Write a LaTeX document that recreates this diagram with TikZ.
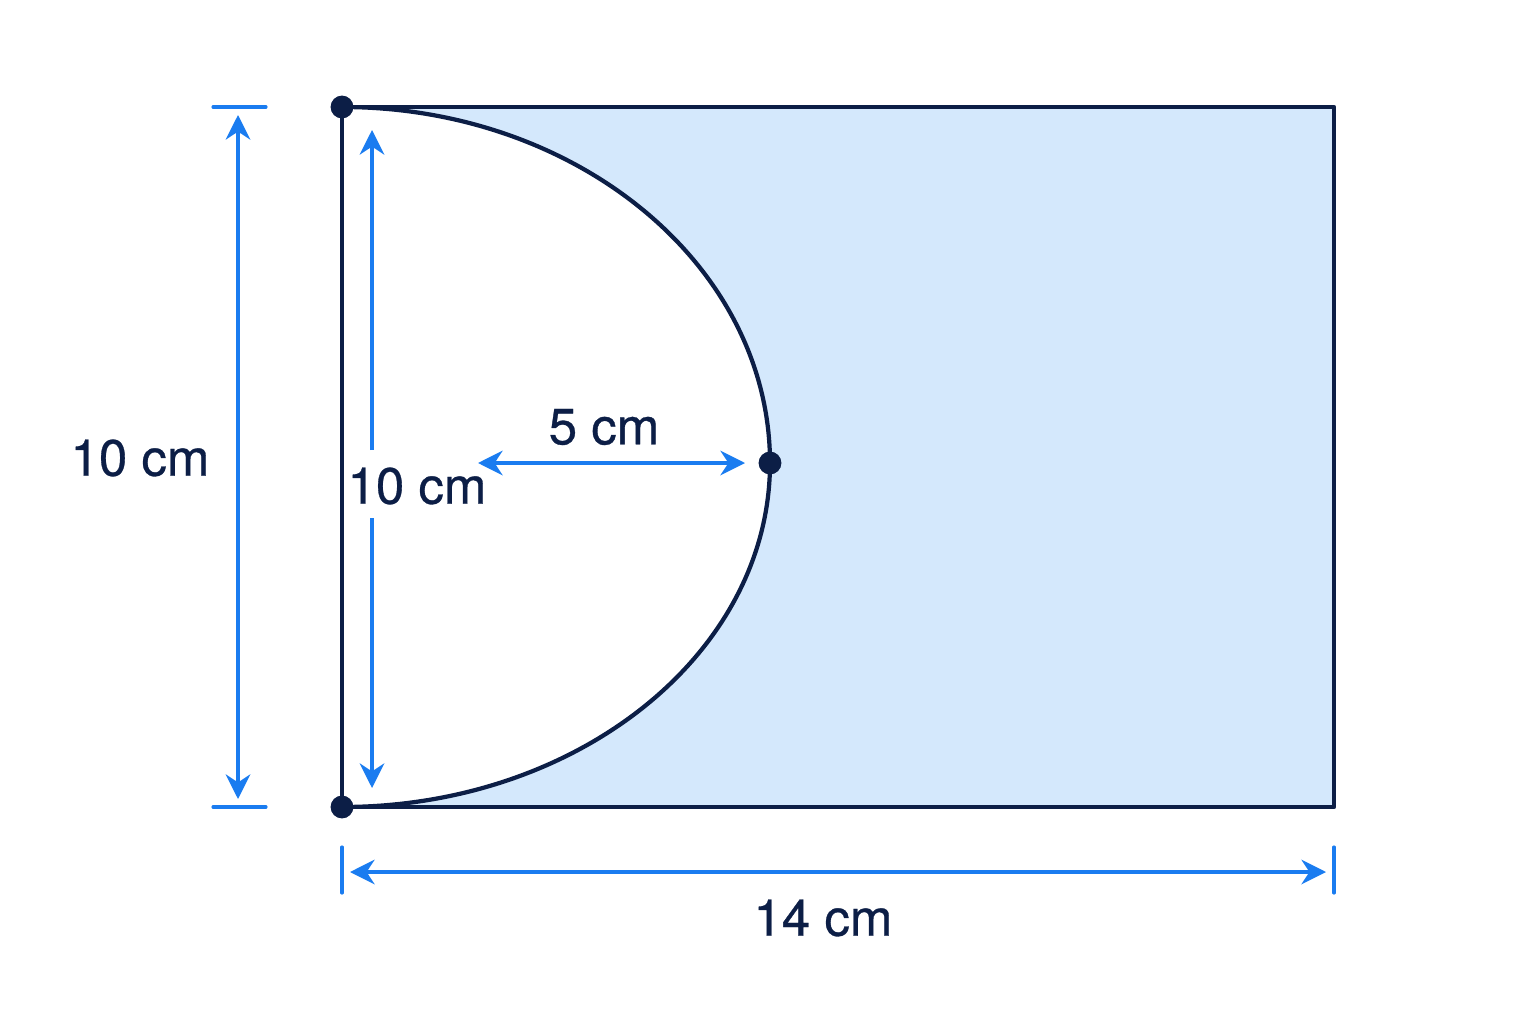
\documentclass[tikz,border=0pt]{standalone}
\usepackage{fontspec}
\setmainfont{TeX Gyre Heros}
\newfontfamily\lblfont{TeX Gyre Heros}[FakeBold=0.6]
\usepackage{tikz}
\usetikzlibrary{arrows.meta,calc,positioning}
\definecolor{navy}{RGB}{12,30,70}
\definecolor{dimblue}{RGB}{26,124,240}
\definecolor{paleblue}{RGB}{212,232,252}
\tikzset{
  outline/.style = {line width=1.2pt, draw=navy, line join=round},
  dim line/.style = {line width=0.9pt, dimblue, {Stealth[length=7pt,width=7pt]}-{Stealth[length=7pt,width=7pt]}},
  dim tick/.style = {line width=0.9pt, dimblue, line cap=round},
  dot/.style = {circle, fill=navy, inner sep=0pt, minimum size=6.5pt},
  lbl/.style = {text=navy, font=\lblfont\fontsize{14.5}{16}\selectfont, inner sep=1pt}
}
\begin{document}
\begin{tikzpicture}
\useasboundingbox (0,0) rectangle (15.36,10.24);
% corners of the sheet
\path (3.42,9.17) coordinate (tl)
      (13.34,9.17) coordinate (tr)
      (13.34,2.17) coordinate (br)
      (3.42,2.17) coordinate (bl)
      (7.70,5.61) coordinate (tip);

% shaded part, half ellipse cut away
\fill[paleblue] (tl) arc[start angle=90, end angle=0, x radius=4.28, y radius=3.56]
     arc[start angle=0, end angle=-90, x radius=4.28, y radius=3.44]
     -- (br) -- (tr) -- cycle;
\draw[outline] (tl) rectangle (br);
\draw[outline] (tl) arc[start angle=90, end angle=0, x radius=4.28, y radius=3.56]
     arc[start angle=0, end angle=-90, x radius=4.28, y radius=3.44];

\node[dot] (dtl) at (tl) {};
\node[dot] (dbl) at (bl) {};
\node[dot] (dtip) at (tip) {};

%---------------------------------------------
% outer height
\path (2.13,9.17) coordinate (h1a) (2.66,9.17) coordinate (h1b)
      (2.13,2.17) coordinate (h2a) (2.66,2.17) coordinate (h2b)
      (2.38,9.09) coordinate (hs) (2.38,2.25) coordinate (he);
\draw[dim tick] (h1a) -- (h1b);
\draw[dim tick] (h2a) -- (h2b);
\draw[dim line] (hs) -- (he);
\node[lbl] (hlbl) at (1.40,5.66) {10 cm};

% inner height
\node[lbl] (ilbl) at (4.17,5.38) {10 cm};
\path (3.72,8.94) coordinate (is) (3.72,2.36) coordinate (ie);
\draw[dim line, -{Stealth[length=7pt,width=7pt]}] (3.72,5.74) coordinate (iu) -- (is);
\draw[dim line, -{Stealth[length=7pt,width=7pt]}] (3.72,5.06) coordinate (id) -- (ie);

% radius
\path (4.78,5.61) coordinate (rs) (7.45,5.61) coordinate (re);
\draw[dim line] (rs) -- (re);
\node[lbl] (rlbl) at (6.04,5.97) {5 cm};

% width
\path (3.42,1.77) coordinate (w1a) (3.42,1.31) coordinate (w1b)
      (13.34,1.77) coordinate (w2a) (13.34,1.31) coordinate (w2b)
      (3.50,1.52) coordinate (ws) (13.26,1.52) coordinate (we);
\draw[dim tick] (w1a) -- (w1b);
\draw[dim tick] (w2a) -- (w2b);
\draw[dim line] (ws) -- (we);
\node[lbl] (wlbl) at (8.23,1.06) {14 cm};
\end{tikzpicture}
\end{document}
